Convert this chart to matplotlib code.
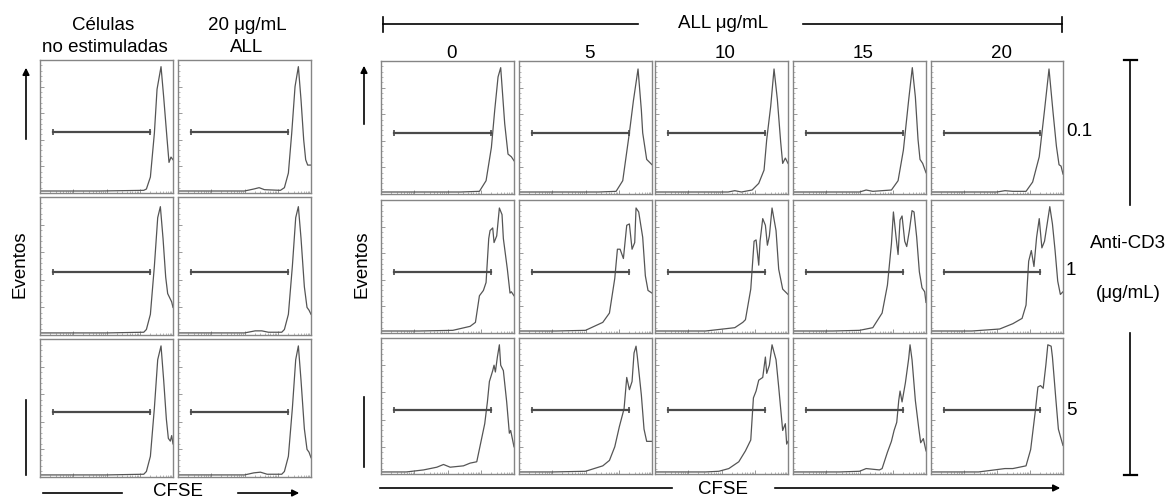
# CFSE proliferation histograms, anti-CD3 x ALL grid
import numpy as np
import matplotlib.pyplot as plt

plt.rcParams['font.family'] = ['Liberation Sans', 'DejaVu Sans']

W, H = 1174, 500

# histogram traces, (CFSE fraction of axis, events fraction of max)
# left block: unstimulated cells / 20 ug/mL ALL alone
unst_a = [(0, 0.015), (0.45, 0.015), (0.78, 0.02), (0.80, 0.03), (0.83, 0.12), (0.86, 0.45),
          (0.88, 0.78), (0.91, 0.95), (0.93, 0.72), (0.955, 0.41), (0.97, 0.23), (0.985, 0.27), (1.0, 0.25)]
all20_a = [(0, 0.015), (0.5, 0.015), (0.57, 0.03), (0.61, 0.04), (0.65, 0.025), (0.77, 0.02), (0.80, 0.04),
           (0.83, 0.15), (0.855, 0.45), (0.88, 0.8), (0.905, 0.95), (0.925, 0.7), (0.945, 0.4),
           (0.96, 0.25), (0.975, 0.21), (1.0, 0.21)]
unst_b = [(0, 0.015), (0.5, 0.015), (0.78, 0.02), (0.80, 0.04), (0.83, 0.15), (0.86, 0.5),
          (0.885, 0.85), (0.905, 0.93), (0.925, 0.7), (0.945, 0.42), (0.96, 0.3), (0.98, 0.26),
          (0.99, 0.24), (1.0, 0.2)]
all20_b = [(0, 0.015), (0.5, 0.015), (0.58, 0.03), (0.63, 0.03), (0.68, 0.02), (0.78, 0.02), (0.80, 0.04),
           (0.83, 0.15), (0.86, 0.5), (0.885, 0.85), (0.905, 0.93), (0.925, 0.7), (0.95, 0.35),
           (0.97, 0.2), (0.985, 0.18), (1.0, 0.15)]
unst_c = [(0, 0.015), (0.5, 0.015), (0.78, 0.02), (0.80, 0.04), (0.83, 0.15), (0.86, 0.5),
          (0.885, 0.85), (0.91, 0.95), (0.93, 0.7), (0.95, 0.42), (0.965, 0.28), (0.98, 0.26),
          (0.99, 0.3), (1.0, 0.24)]
all20_c = [(0, 0.015), (0.5, 0.015), (0.57, 0.03), (0.62, 0.035), (0.67, 0.02), (0.78, 0.02), (0.80, 0.04),
           (0.83, 0.15), (0.86, 0.5), (0.885, 0.85), (0.905, 0.95), (0.925, 0.7), (0.95, 0.35),
           (0.97, 0.2), (0.985, 0.18), (1.0, 0.14)]

# right block, anti-CD3 0.1 ug/mL, ALL 0..20
r01_all0 = [(0, 0.015), (0.6, 0.015), (0.74, 0.02), (0.79, 0.1), (0.83, 0.35), (0.855, 0.63),
            (0.88, 0.88), (0.90, 0.95), (0.93, 0.53), (0.955, 0.30), (0.98, 0.28), (1.0, 0.25)]
r01_all5 = [(0, 0.015), (0.6, 0.015), (0.73, 0.02), (0.78, 0.1), (0.83, 0.46), (0.86, 0.7),
            (0.895, 0.94), (0.92, 0.63), (0.93, 0.46), (0.96, 0.26), (0.98, 0.24), (1.0, 0.22)]
r01_all10 = [(0, 0.015), (0.55, 0.015), (0.6, 0.025), (0.65, 0.015), (0.73, 0.03), (0.78, 0.08),
             (0.82, 0.18), (0.84, 0.41), (0.87, 0.66), (0.895, 0.94), (0.92, 0.71), (0.945, 0.39),
             (0.96, 0.23), (0.98, 0.27), (1.0, 0.23)]
r01_all15 = [(0, 0.015), (0.5, 0.015), (0.55, 0.03), (0.6, 0.02), (0.74, 0.03), (0.79, 0.1),
             (0.83, 0.33), (0.87, 0.71), (0.897, 0.95), (0.92, 0.73), (0.94, 0.41), (0.955, 0.26),
             (0.975, 0.23), (1.0, 0.16)]
r01_all20 = [(0, 0.015), (0.5, 0.015), (0.56, 0.025), (0.62, 0.02), (0.72, 0.02), (0.77, 0.09),
             (0.82, 0.28), (0.86, 0.63), (0.894, 0.94), (0.925, 0.61), (0.95, 0.36), (0.97, 0.22),
             (0.985, 0.21), (1.0, 0.15)]

# anti-CD3 1 ug/mL
r1_all0 = [(0, 0.015), (0.29, 0.015), (0.54, 0.02), (0.67, 0.05), (0.71, 0.08), (0.74, 0.28),
           (0.77, 0.32), (0.79, 0.38), (0.81, 0.71), (0.82, 0.77), (0.84, 0.79), (0.85, 0.68),
           (0.87, 0.73), (0.89, 0.94), (0.91, 0.89), (0.92, 0.71), (0.95, 0.48), (0.97, 0.30),
           (0.98, 0.31), (1.0, 0.28)]
r1_all5 = [(0, 0.015), (0.28, 0.015), (0.5, 0.02), (0.63, 0.08), (0.68, 0.15), (0.72, 0.41),
           (0.74, 0.63), (0.76, 0.63), (0.785, 0.56), (0.81, 0.81), (0.83, 0.82), (0.85, 0.63),
           (0.87, 0.68), (0.88, 0.94), (0.90, 0.91), (0.93, 0.72), (0.95, 0.43), (0.97, 0.32),
           (1.0, 0.3)]
r1_all10 = [(0, 0.015), (0.38, 0.015), (0.6, 0.04), (0.66, 0.08), (0.68, 0.1), (0.72, 0.33),
            (0.745, 0.69), (0.76, 0.70), (0.78, 0.51), (0.79, 0.69), (0.81, 0.86), (0.83, 0.81),
            (0.845, 0.66), (0.86, 0.73), (0.88, 0.94), (0.91, 0.77), (0.93, 0.48), (0.96, 0.33),
            (0.98, 0.31), (1.0, 0.29)]
r1_all15 = [(0, 0.015), (0.3, 0.015), (0.5, 0.02), (0.6, 0.04), (0.67, 0.15), (0.71, 0.36),
            (0.74, 0.67), (0.755, 0.91), (0.775, 0.72), (0.79, 0.59), (0.805, 0.85), (0.82, 0.88),
            (0.84, 0.69), (0.855, 0.65), (0.875, 0.77), (0.895, 0.92), (0.91, 0.91), (0.93, 0.72),
            (0.95, 0.46), (0.97, 0.34), (0.99, 0.31), (1.0, 0.23)]
r1_all20 = [(0, 0.015), (0.31, 0.015), (0.52, 0.03), (0.62, 0.07), (0.69, 0.11), (0.72, 0.21),
            (0.74, 0.54), (0.76, 0.62), (0.78, 0.50), (0.80, 0.72), (0.82, 0.86), (0.84, 0.64),
            (0.86, 0.69), (0.88, 0.82), (0.90, 0.95), (0.92, 0.82), (0.94, 0.62), (0.96, 0.39),
            (0.98, 0.29), (1.0, 0.31)]

# anti-CD3 5 ug/mL
r5_all0 = [(0, 0.015), (0.19, 0.015), (0.32, 0.03), (0.42, 0.05), (0.47, 0.07), (0.52, 0.05),
           (0.62, 0.06), (0.67, 0.08), (0.72, 0.09), (0.75, 0.23), (0.78, 0.37), (0.80, 0.53),
           (0.815, 0.68), (0.84, 0.76), (0.85, 0.80), (0.86, 0.75), (0.875, 0.86), (0.89, 0.95),
           (0.90, 0.8), (0.92, 0.76), (0.945, 0.53), (0.965, 0.30), (0.975, 0.32), (1.0, 0.2)]
r5_all5 = [(0, 0.015), (0.25, 0.015), (0.5, 0.02), (0.63, 0.06), (0.68, 0.1), (0.72, 0.2),
           (0.755, 0.35), (0.79, 0.48), (0.81, 0.71), (0.83, 0.62), (0.85, 0.68), (0.865, 0.89),
           (0.88, 0.94), (0.89, 0.86), (0.92, 0.58), (0.94, 0.33), (0.96, 0.24), (1.0, 0.24)]
r5_all10 = [(0, 0.015), (0.38, 0.015), (0.48, 0.02), (0.555, 0.04), (0.63, 0.09), (0.68, 0.17),
            (0.72, 0.25), (0.74, 0.56), (0.76, 0.61), (0.78, 0.69), (0.81, 0.71), (0.83, 0.86),
            (0.84, 0.74), (0.86, 0.8), (0.88, 0.95), (0.91, 0.84), (0.93, 0.64), (0.96, 0.32),
            (0.98, 0.37), (0.99, 0.22), (1.0, 0.24)]
r5_all15 = [(0, 0.015), (0.35, 0.015), (0.5, 0.02), (0.55, 0.04), (0.65, 0.03), (0.67, 0.04),
            (0.71, 0.16), (0.74, 0.24), (0.76, 0.32), (0.78, 0.38), (0.795, 0.54), (0.805, 0.61),
            (0.82, 0.53), (0.845, 0.67), (0.87, 0.85), (0.88, 0.95), (0.895, 0.84), (0.92, 0.54),
            (0.945, 0.34), (0.96, 0.23), (0.98, 0.26), (1.0, 0.17)]
r5_all20 = [(0, 0.015), (0.36, 0.015), (0.56, 0.04), (0.62, 0.04), (0.72, 0.06), (0.755, 0.18),
            (0.79, 0.46), (0.81, 0.64), (0.83, 0.65), (0.85, 0.63), (0.87, 0.80), (0.885, 0.95),
            (0.91, 0.94), (0.92, 0.86), (0.945, 0.56), (0.965, 0.33), (0.985, 0.26), (1.0, 0.21)]

left_grid = [[unst_a, all20_a], [unst_b, all20_b], [unst_c, all20_c]]
right_grid = [[r01_all0, r01_all5, r01_all10, r01_all15, r01_all20],
              [r1_all0, r1_all5, r1_all10, r1_all15, r1_all20],
              [r5_all0, r5_all5, r5_all10, r5_all15, r5_all20]]

all_doses = ['0', '5', '10', '15', '20']
cd3_doses = ['0.1', '1', '5']
gate_lo, gate_hi = 0.10, 0.825
gate_y = [0.46, 0.46, 0.47]

# panel boxes in pixels
left_cols = [(40, 173), (178, 311)]
left_rows = [(60, 193), (197, 335), (339, 477)]
right_cols = [(381, 514), (519, 652), (655, 788), (793, 926), (931, 1063)]
right_rows = [(61, 194), (200, 333), (338, 474)]

frame_c = '#858585'
line_c = '#555555'

fig = plt.figure(figsize=(W / 100, H / 100), dpi=100)
fig.patch.set_facecolor('white')

# overlay in pixel coordinates for labels / brackets
ov = fig.add_axes([0, 0, 1, 1])
ov.set_xlim(0, W)
ov.set_ylim(H, 0)
ov.set_axis_off()

xminor = [0.25 * (d + np.log10(m)) for d in range(4) for m in range(2, 10)]


def panel(cols, rows, i, j, trace):
    x0, x1 = cols[j]
    y0, y1 = rows[i]
    ax = fig.add_axes([x0 / W, 1 - y1 / H, (x1 - x0) / W, (y1 - y0) / H])
    xs = [p[0] for p in trace]
    ys = [p[1] for p in trace]
    ax.plot(xs, ys, color=line_c, lw=0.9)
    gy = gate_y[i]
    ax.plot([gate_lo, gate_hi], [gy, gy], color='#4a4a4a', lw=1.6)
    ax.plot([gate_lo, gate_hi], [gy, gy], ls='none', marker='|', ms=5, mew=1.2, color='#4a4a4a')
    ax.set_xlim(0, 1)
    ax.set_ylim(0, 1)
    for s in ax.spines.values():
        s.set_color(frame_c)
        s.set_linewidth(1.0)
    ax.set_xticks([0, 0.25, 0.5, 0.75, 1])
    ax.set_xticks(xminor, minor=True)
    ax.set_yticks(np.linspace(0, 1, 6))
    ax.set_yticks(np.linspace(0, 1, 26), minor=True)
    ax.tick_params(which='both', direction='in', colors='#999999', labelleft=False, labelbottom=False)
    ax.tick_params(which='major', length=3, width=0.7)
    ax.tick_params(which='minor', length=1.5, width=0.5)
    return ax


for i in range(3):
    for j in range(2):
        panel(left_cols, left_rows, i, j, left_grid[i][j])
    for j in range(5):
        panel(right_cols, right_rows, i, j, right_grid[i][j])

fs = 13.5
k = 'black'
# headers, left block
ov.text(103, 25, 'Células', ha='center', va='center', fontsize=fs)
ov.text(105, 47, 'no estimuladas', ha='center', va='center', fontsize=fs)
ov.text(247, 25, '20 μg/mL', ha='center', va='center', fontsize=fs)
ov.text(247, 47, 'ALL', ha='center', va='center', fontsize=fs)

# ALL bracket
ov.text(723, 24, 'ALL μg/mL', ha='center', va='center', fontsize=fs)
ov.plot([383, 638], [24, 24], color=k, lw=1.2)
ov.plot([383, 383], [17, 32], color=k, lw=1.2)
ov.plot([803, 1062], [24, 24], color=k, lw=1.2)
ov.plot([1062, 1062], [17, 32], color=k, lw=1.2)
for j, lab in enumerate(all_doses):
    cx = (right_cols[j][0] + right_cols[j][1]) / 2 + 4
    ov.text(cx, 53, lab, ha='center', va='center', fontsize=fs)

# anti-CD3 rows
for i, lab in enumerate(cd3_doses):
    cy = right_rows[i][0] + (right_rows[i][1] - right_rows[i][0]) * 0.53
    ov.text(1066, cy, lab, ha='left', va='center', fontsize=fs)
ov.plot([1130, 1130], [60, 205], color=k, lw=1.2)
ov.plot([1124, 1137], [60, 60], color=k, lw=1.6)
ov.text(1128, 243, 'Anti-CD3', ha='center', va='center', fontsize=fs)
ov.text(1128, 293, '(μg/mL)', ha='center', va='center', fontsize=fs)
ov.plot([1130, 1130], [333, 475], color=k, lw=1.2)
ov.plot([1124, 1137], [475, 475], color=k, lw=1.6)

# y axis labels with arrows
for ex, ax_x, top, bot, l0, l1 in [(20, 26, 65, 142, 400, 475), (362, 364, 63, 127, 397, 467)]:
    ov.text(ex, 264, 'Eventos', ha='center', va='center', rotation=90, fontsize=fs)
    ov.annotate('', xy=(ax_x, top), xytext=(ax_x, bot),
                arrowprops=dict(arrowstyle='-|>', color=k, lw=1.2, mutation_scale=10))
    ov.plot([ax_x, ax_x], [l0, l1], color=k, lw=1.2)

# CFSE axes
ov.plot([43, 122], [493, 493], color=k, lw=1.2)
ov.text(178, 492, 'CFSE', ha='center', va='center', fontsize=fs)
ov.annotate('', xy=(302, 493), xytext=(235, 493),
            arrowprops=dict(arrowstyle='-|>', color=k, lw=1.2, mutation_scale=10))
ov.plot([380, 672], [488, 488], color=k, lw=1.2)
ov.text(723, 489, 'CFSE', ha='center', va='center', fontsize=fs)
ov.annotate('', xy=(1063, 488), xytext=(772, 488),
            arrowprops=dict(arrowstyle='-|>', color=k, lw=1.2, mutation_scale=10))

fig.savefig('out.png', dpi=100)
